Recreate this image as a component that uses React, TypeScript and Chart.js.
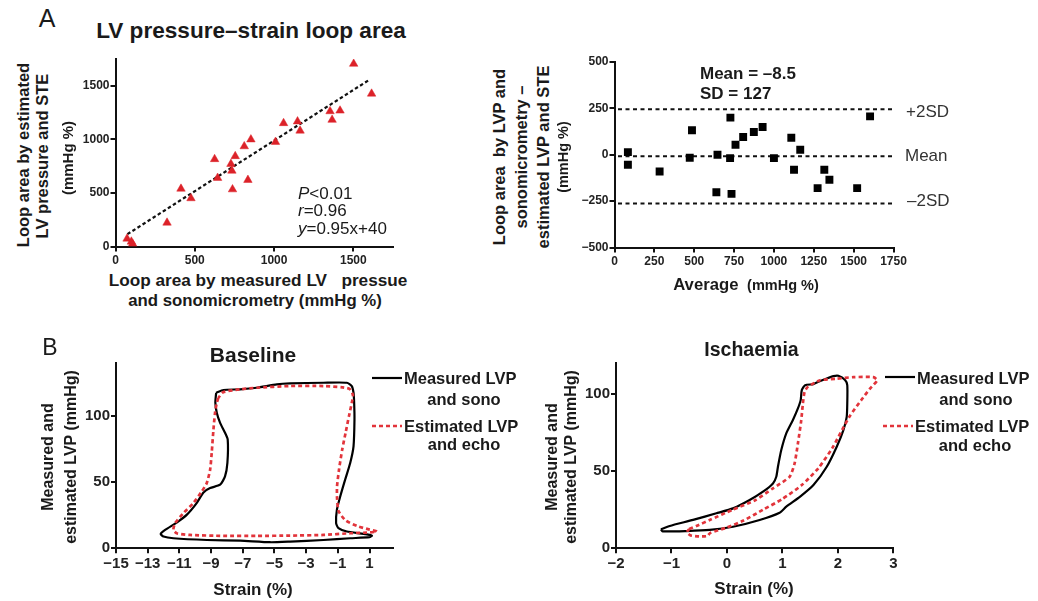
import React, { useEffect, useRef } from "react";
import { Chart, registerables } from "chart.js";

Chart.register(...registerables);

const FONT = "'Liberation Sans', Arial, Helvetica, sans-serif";
const INK = "#1a1a1a";
const RED = "#dc2229";
const RED_LINE = "#e2343b";

// ---------- Panel A, left: loop area correlation ----------
const measuredArea = [73, 100, 108, 325, 413, 476, 625, 644, 728, 734, 738, 755, 812, 835, 854, 1009, 1060, 1148, 1164, 1353, 1366, 1416, 1502, 1615];
const estimatedArea = [73, 45, 25, 222, 539, 450, 815, 640, 770, 707, 533, 843, 935, 621, 999, 976, 1151, 1167, 1081, 1262, 1182, 1268, 1705, 1426];
const regressionX = [75, 1605];
const regressionY = [115, 1560];
const corrTicks = [0, 500, 1000, 1500];

// ---------- Panel A, right: Bland-Altman ----------
const averageArea = [84, 84, 283, 472, 486, 639, 646, 725, 727, 734, 759, 807, 874, 929, 1000, 1109, 1126, 1165, 1274, 1316, 1348, 1522, 1603];
const differenceArea = [14, -54, -90, -16, 132, -202, 0, -18, 200, -211, 54, 96, 123, 150, -18, 92, -81, 27, -180, -81, -135, -180, 207];
const meanDiff = -8.5;
const sdDiff = 127;
const limitX = [22, 1750];
const baXTicks = [0, 250, 500, 750, 1000, 1250, 1500, 1750];
const baYTicks = [-500, -250, 0, 250, 500];

// ---------- Panel B, left: Baseline loops ----------
const baseMeasStrain = [-8.68, -8.22, -7.17, -6.12, -4.85, -4.01, -1.91, -0.43, -0.12, -0.01, 0.03, 0.05, -0.01, -0.22, -0.54, -0.85, -1.06, -1.11, -0.96, -0.43, 0.62, 1.15, 1.0, -0.22, -1.91, -4.01, -5.27, -7.17, -9.27, -11.38, -12.0, -12.18, -11.9, -11.17, -10.54, -9.91, -9.48, -9.06, -8.43, -8.12, -7.97, -7.95, -8.12, -8.43, -8.64, -8.73, -8.68];
const baseMeasLVP = [117.7, 119.8, 120.3, 121.5, 124.1, 124.8, 125.3, 125.3, 122.8, 117.7, 110, 97.5, 77.2, 64.6, 51.9, 39.2, 29.1, 19, 15.2, 12.7, 10.9, 9.6, 8.4, 7.6, 6.3, 5.1, 4.6, 5.8, 6.3, 7.6, 8.9, 10.9, 13.9, 19.5, 25.3, 34.2, 42.3, 45.6, 48.1, 54.4, 64.6, 82.3, 87.4, 94.9, 102.5, 110.1, 117.7];
const baseEstStrain = [-8.54, -8.64, -8.75, -8.85, -8.96, -9.06, -9.27, -9.59, -10.12, -10.75, -11.27, -11.38, -11.17, -10.33, -8.22, -6.12, -4.01, -1.91, -0.22, 0.83, 1.46, 0.9, 0.3, -0.5, -0.95, -1.05, -1.05, -0.92, -0.72, -0.5, -0.3, -0.12, -0.05, -0.25, -0.7, -1.91, -4.01, -6.12, -7.17, -8.22, -8.54];
const baseEstLVP = [113.9, 110.1, 102.5, 89.9, 72.2, 59.5, 49.4, 43, 34.2, 26.6, 19, 13.9, 11.4, 10.1, 9.4, 9.4, 9.6, 10.1, 11.4, 11.9, 12.7, 14.5, 16.5, 21, 28, 38, 47, 60, 75, 88, 100, 110, 116, 120.5, 121.8, 122.8, 122.8, 121.5, 120.3, 118.2, 113.9];
const baseXTicks = [-15, -13, -11, -9, -7, -5, -3, -1, 1];
const baseYTicks = [0, 50, 100];

// ---------- Panel B, right: Ischaemia loops ----------
const ischMeasStrain = [-1.19, -1.03, -0.61, -0.19, 0.11, 0.41, 0.65, 0.83, 0.89, 0.92, 0.98, 1.07, 1.19, 1.28, 1.33, 1.35, 1.41, 1.56, 1.65, 1.8, 1.92, 2.01, 2.13, 2.17, 2.17, 2.16, 2.1, 1.98, 1.8, 1.56, 1.32, 1.07, 0.95, 0.59, 0.11, -0.31, -0.73, -1.16, -1.19];
const ischMeasLVP = [12.3, 14.5, 18.4, 22.7, 25.9, 31.3, 36.7, 42.1, 46.4, 52.9, 63.7, 74.5, 83.2, 90.7, 96.1, 102.6, 105.8, 106.5, 108, 110.2, 111.7, 111.9, 109.1, 105.8, 94, 85.3, 76.7, 65.9, 52.9, 41, 33.5, 27, 23.1, 18.4, 14, 11.9, 11.2, 11, 12.3];
const ischEstStrain = [-0.68, -0.55, -0.3, 0.1, 0.5, 0.83, 1.13, 1.22, 1.28, 1.34, 1.37, 1.4, 1.46, 1.68, 1.98, 2.28, 2.64, 2.71, 2.58, 2.42, 2.22, 2.08, 1.9, 1.65, 1.35, 1.0, 0.65, 0.3, 0.0, -0.3, -0.35, -0.5, -0.65, -0.72, -0.68];
const ischEstLVP = [12.5, 14.5, 18.5, 25, 31, 38.9, 46.4, 55, 68, 83, 94, 101.5, 104.8, 109, 110, 111, 111, 109, 103.6, 96, 86, 77, 65, 52, 41, 32, 25, 18, 13.5, 10, 8, 7.7, 8.3, 10.5, 12.5];
const ischXTicks = [-2, -1, 0, 1, 2, 3];
const ischYTicks = [0, 50, 100];

const zip = (xs: number[], ys: number[]) => xs.map((x, i) => ({ x, y: ys[i] }));
const fmt = (v: number | string) => {
  const n = Number(v);
  return n < 0 ? "\u2212" + Math.abs(n) : String(n);
};

function axis(
  min: number,
  max: number,
  tickValues: number[],
  fontSize: number,
  fit: { width?: number; height?: number },
  padding: number
) {
  return {
    type: "linear",
    min,
    max,
    afterBuildTicks: (scale: any) => {
      scale.ticks = tickValues.map((value) => ({ value }));
    },
    ticks: {
      autoSkip: false,
      maxRotation: 0,
      padding,
      color: "#222",
      font: { family: FONT, size: fontSize, weight: "bold" },
      callback: (v: number) => fmt(v),
    },
    grid: {
      display: true,
      drawOnChartArea: false,
      drawTicks: true,
      tickLength: 5,
      tickWidth: 2,
      tickColor: "#111",
      color: "#111",
      lineWidth: 2,
    },
    border: { display: true, color: "#111", width: 2 },
    afterFit: (scale: any) => {
      if (fit.width !== undefined) scale.width = fit.width;
      if (fit.height !== undefined) scale.height = fit.height;
    },
  };
}

function baseOptions(pad: { top: number; right: number }, x: any, y: any) {
  return {
    responsive: false,
    maintainAspectRatio: false,
    animation: false,
    devicePixelRatio: 1,
    layout: { padding: { top: pad.top, right: pad.right, left: 0, bottom: 0 } },
    plugins: { legend: { display: false }, tooltip: { enabled: false }, title: { display: false } },
    events: [],
    scales: { x, y },
  };
}

const corrConfig = () => ({
  type: "scatter",
  data: {
    datasets: [
      {
        data: zip(measuredArea, estimatedArea),
        pointStyle: "triangle",
        pointRadius: 4.9,
        backgroundColor: RED,
        borderColor: RED,
        borderWidth: 0.5,
        order: 0,
      },
      {
        data: zip(regressionX, regressionY),
        showLine: true,
        pointRadius: 0,
        borderColor: "#111",
        borderWidth: 2.2,
        borderDash: [3.5, 2.5],
        order: 1,
      },
    ],
  },
  options: baseOptions(
    { top: 14, right: 17 },
    axis(0, 1750, corrTicks, 12, { height: 23.5 }, 2),
    axis(0, 1750, corrTicks, 12, { width: 45.5 }, 1)
  ),
});

const limitLine = (value: number) => ({
  data: zip(limitX, [value, value]),
  showLine: true,
  pointRadius: 0,
  borderColor: "#111",
  borderWidth: 2,
  borderDash: [4, 3.5],
  order: 1,
});

const baConfig = () => ({
  type: "scatter",
  data: {
    datasets: [
      {
        data: zip(averageArea, differenceArea),
        pointStyle: "rect",
        pointRadius: 5.6,
        backgroundColor: "#000",
        borderColor: "#000",
        borderWidth: 0,
        order: 0,
      },
      limitLine(meanDiff + 2 * sdDiff),
      limitLine(meanDiff),
      limitLine(meanDiff - 2 * sdDiff),
    ],
  },
  options: baseOptions(
    { top: 17, right: 21.5 },
    axis(0, 1750, baXTicks, 12, { height: 27.5 }, 2),
    axis(-500, 500, baYTicks, 12, { width: 44.5 }, 1)
  ),
});

const loopDataset = (xs: number[], ys: number[], dashed: boolean) => ({
  data: zip(xs, ys),
  showLine: true,
  pointRadius: 0,
  tension: 0.2,
  borderColor: dashed ? RED_LINE : "#000",
  borderWidth: dashed ? 2.7 : 2.2,
  borderDash: dashed ? [4, 3] : [],
  order: dashed ? 0 : 1,
});

const baselineConfig = () => ({
  type: "scatter",
  data: {
    datasets: [loopDataset(baseEstStrain, baseEstLVP, true), loopDataset(baseMeasStrain, baseMeasLVP, false)],
  },
  options: baseOptions(
    { top: 13.3, right: 16.7 },
    axis(-15, 2.5, baseXTicks, 15, { height: 31.7 }, 2),
    axis(0, 140, baseYTicks, 15, { width: 36 }, 1)
  ),
});

const ischaemiaConfig = () => ({
  type: "scatter",
  data: {
    datasets: [loopDataset(ischEstStrain, ischEstLVP, true), loopDataset(ischMeasStrain, ischMeasLVP, false)],
  },
  options: baseOptions(
    { top: 13.3, right: 16.7 },
    axis(-2, 3, ischXTicks, 15, { height: 31.7 }, 2),
    axis(0, 120, ischYTicks, 15, { width: 36 }, 1)
  ),
});

function ChartCanvas(props: { make: () => any; left: number; top: number; width: number; height: number }) {
  const ref = useRef<HTMLCanvasElement | null>(null);
  useEffect(() => {
    if (!ref.current) return;
    const chart = new Chart(ref.current, props.make());
    return () => chart.destroy();
  }, []);
  return (
    <canvas
      ref={ref}
      width={props.width}
      height={props.height}
      style={{ position: "absolute", left: props.left, top: props.top, width: props.width, height: props.height }}
    />
  );
}

function T(props: {
  x: number;
  y: number;
  size: number;
  bold?: boolean;
  rotate?: boolean;
  align?: "left" | "center";
  color?: string;
  children: React.ReactNode;
}) {
  const { x, y, size, bold, rotate, align = "center", color = INK } = props;
  const tr =
    align === "left" ? "translate(0,-50%)" : rotate ? "translate(-50%,-50%) rotate(-90deg)" : "translate(-50%,-50%)";
  return (
    <div
      style={{
        position: "absolute",
        left: x,
        top: y,
        transform: tr,
        fontFamily: FONT,
        fontSize: size,
        fontWeight: bold ? 700 : 400,
        lineHeight: 1,
        whiteSpace: "pre",
        color,
      }}
    >
      {props.children}
    </div>
  );
}

function LegendLine(props: { x1: number; x2: number; y: number; dashed?: boolean }) {
  const { x1, x2, y, dashed } = props;
  return (
    <svg width={x2 - x1} height={6} style={{ position: "absolute", left: x1, top: y - 3, overflow: "visible" }}>
      <line
        x1={0}
        y1={3}
        x2={x2 - x1}
        y2={3}
        stroke={dashed ? RED_LINE : "#000"}
        strokeWidth={dashed ? 2.7 : 2.2}
        strokeDasharray={dashed ? "4 3" : undefined}
      />
    </svg>
  );
}

export default function App() {
  return (
    <div
      style={{
        position: "absolute",
        left: 0,
        top: 0,
        width: 1038,
        height: 601,
        background: "#fff",
        overflow: "hidden",
      }}
    >
      <ChartCanvas make={corrConfig} left={70} top={45} width={340} height={225} />
      <ChartCanvas make={baConfig} left={570} top={45} width={345} height={230} />
      <ChartCanvas make={baselineConfig} left={80} top={350} width={330} height={230} />
      <ChartCanvas make={ischaemiaConfig} left={580} top={350} width={330} height={230} />

      {/* Panel A */}
      <T x={47} y={17.5} size={25}>A</T>
      <T x={251} y={31} size={22.6} bold>LV pressure–strain loop area</T>
      <T x={23} y={155} size={16.5} bold rotate>Loop area by estimated</T>
      <T x={41.5} y={156} size={16.5} bold rotate>LV pressure and STE</T>
      <T x={67} y={158} size={15} bold rotate>(mmHg %)</T>
      <T x={258} y={281} size={17.2} bold>Loop area by measured LV   pressue</T>
      <T x={255} y={301} size={16.8} bold>and sonomicrometry (mmHg %)</T>
      <T x={298} y={193} size={17} align="left"><i>P</i>{"<0.01"}</T>
      <T x={298} y={210} size={17} align="left"><i>r</i>{"=0.96"}</T>
      <T x={298} y={228} size={17} align="left"><i>y</i>{"=0.95x+40"}</T>

      <T x={499} y={157} size={16.5} bold rotate>Loop area  by LVP and</T>
      <T x={521} y={157} size={16.5} bold rotate>sonomicrometry –</T>
      <T x={543} y={157} size={16.5} bold rotate>estimated LVP and STE</T>
      <T x={563} y={157} size={14.5} bold rotate>(mmHg %)</T>
      <T x={746} y={285} size={16.7} bold>
        Average <span style={{ fontSize: 14.5 }}> (mmHg %)</span>
      </T>
      <T x={700} y={72.5} size={17} bold align="left">Mean = –8.5</T>
      <T x={700} y={93} size={17} bold align="left">SD = 127</T>
      <T x={906} y={111} size={17} color="#333" align="left">+2SD</T>
      <T x={905} y={155} size={17} color="#333" align="left">Mean</T>
      <T x={907} y={200} size={17} color="#333" align="left">–2SD</T>

      {/* Panel B */}
      <T x={50} y={346.5} size={23}>B</T>
      <T x={253} y={354} size={21} bold>Baseline</T>
      <T x={751.5} y={350} size={19.5} bold>Ischaemia</T>
      <T x={47.5} y={457} size={16} bold rotate>Measured and</T>
      <T x={71} y={457} size={16} bold rotate>estimated LVP (mmHg)</T>
      <T x={552} y={457} size={16} bold rotate>Measured and</T>
      <T x={570.5} y={457} size={16} bold rotate>estimated LVP (mmHg)</T>
      <T x={253} y={588.5} size={17} bold>Strain (%)</T>
      <T x={754} y={588} size={17} bold>Strain (%)</T>

      <LegendLine x1={372} x2={402} y={377.7} />
      <T x={404} y={378} size={16.5} bold align="left">Measured LVP</T>
      <T x={464} y={399} size={16.5} bold>and sono</T>
      <LegendLine x1={372} x2={402} y={425.5} dashed />
      <T x={404} y={425.5} size={16.5} bold align="left">Estimated LVP</T>
      <T x={464} y={444} size={16.5} bold>and echo</T>

      <LegendLine x1={885} x2={915} y={377} />
      <T x={917} y={378} size={16.5} bold align="left">Measured LVP</T>
      <T x={976} y={399} size={16.5} bold>and sono</T>
      <LegendLine x1={883} x2={913} y={425.5} dashed />
      <T x={915} y={425.5} size={16.5} bold align="left">Estimated LVP</T>
      <T x={975} y={445} size={16.5} bold>and echo</T>
    </div>
  );
}
